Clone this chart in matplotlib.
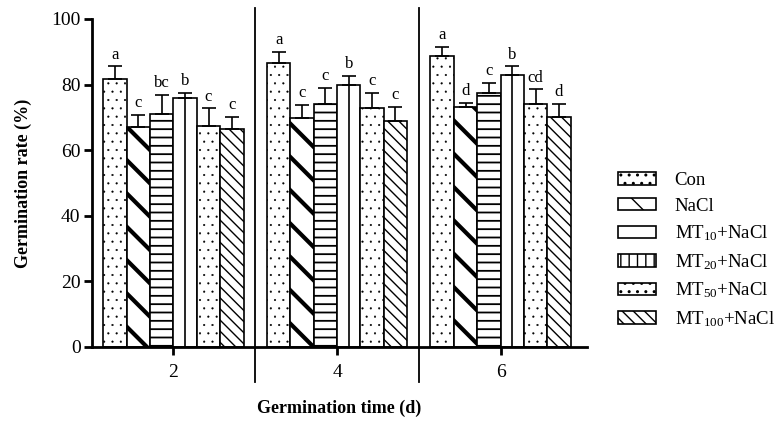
import matplotlib
matplotlib.use("Agg")
import matplotlib.pyplot as plt
import matplotlib.patches as mpatches
import numpy as np

plt.rcParams["font.family"] = ["Liberation Serif", "DejaVu Serif"]
plt.rcParams["mathtext.fontset"] = "custom"
plt.rcParams["mathtext.rm"] = "Liberation Serif"
plt.rcParams["mathtext.it"] = "Liberation Serif:italic"
plt.rcParams["hatch.color"] = "black"

days = ["2", "4", "6"]
treatments = ["Con", "NaCl", "MT$_{10}$+NaCl", "MT$_{20}$+NaCl",
              "MT$_{50}$+NaCl", "MT$_{100}$+NaCl"]

# mean germination rate (%) per treatment, one value per day
con = [81.7, 86.5, 88.8]
nacl = [67.2, 69.9, 73.1]
mt10 = [70.9, 74.0, 77.3]
mt20 = [75.8, 80.0, 82.9]
mt50 = [67.5, 72.7, 74.0]
mt100 = [66.5, 69.0, 70.2]

con_err = [3.8, 3.5, 2.6]
nacl_err = [3.5, 3.9, 1.2]
mt10_err = [5.9, 4.9, 3.1]
mt20_err = [1.7, 2.7, 2.6]
mt50_err = [5.2, 4.8, 4.5]
mt100_err = [3.7, 4.3, 3.9]

con_sig = ["a", "a", "a"]
nacl_sig = ["c", "c", "d"]
mt10_sig = ["bc", "c", "c"]
mt20_sig = ["b", "b", "b"]
mt50_sig = ["c", "c", "cd"]
mt100_sig = ["c", "c", "d"]

means = [con, nacl, mt10, mt20, mt50, mt100]
errs = [con_err, nacl_err, mt10_err, mt20_err, mt50_err, mt100_err]
sigs = [con_sig, nacl_sig, mt10_sig, mt20_sig, mt50_sig, mt100_sig]

# hatch, hatch linewidth
styles = [("..", 0.3), ("\\", 3.0), ("--", 1.3), ("", 1.0), ("..", 0.3), ("\\\\\\", 1.0)]
legend_hatch = ["..", "\\", "-", "||", "..", "\\\\\\"]


def hatch_lw(artist, lw):
    if hasattr(artist, "set_hatch_linewidth"):
        artist.set_hatch_linewidth(lw)


fig = plt.figure(figsize=(7.84, 4.21), dpi=100)
ax = fig.add_axes([0.117, 0.176, 0.632, 0.779])

width = 1 / 7
x = np.arange(len(days))
for i, (vals, err, sig) in enumerate(zip(means, errs, sigs)):
    pos = x + (i - 2.5) * width
    hatch, hlw = styles[i]
    plt.rcParams["hatch.linewidth"] = hlw
    bars = ax.bar(pos, vals, width, color="white", edgecolor="black",
                  linewidth=1.2, hatch=hatch or None, zorder=2)
    for b in bars:
        hatch_lw(b, hlw)
    ax.errorbar(pos, vals, yerr=[[0] * len(vals), err], fmt="none",
                ecolor="black", elinewidth=1.2, capsize=5, capthick=1.2, zorder=3)
    if i == 3:
        ax.vlines(pos, 0, vals, color="black", linewidth=1.2, zorder=3)
    for p, v, e, s in zip(pos, vals, err, sig):
        ax.text(p, v + e + 1.2, s, ha="center", va="bottom", fontsize=12)

plt.rcParams["hatch.linewidth"] = 1.0

for xd in [0.5, 1.5]:
    ax.plot([xd, xd], [-10.7, 103.4], color="black", linewidth=1.3,
            clip_on=False, zorder=4)

ax.set_xlim(-0.5, 2.53)
ax.set_ylim(0, 100)
ax.set_xticks(x)
ax.set_xticklabels(days)
ax.set_yticks(range(0, 101, 20))
ax.tick_params(direction="out", length=6, width=2, labelsize=14)
ax.tick_params(axis="x", pad=6)
ax.tick_params(axis="y", pad=2)
for side in ["top", "right"]:
    ax.spines[side].set_visible(False)
for side in ["left", "bottom"]:
    ax.spines[side].set_linewidth(2)

ax.set_ylabel("Germination rate (%)", fontsize=13, fontweight="bold", labelpad=14)
ax.set_xlabel("Germination time (d)", fontsize=13, fontweight="bold", labelpad=14)

handles = []
for i, lab in enumerate(treatments):
    plt.rcParams["hatch.linewidth"] = styles[i][1]
    h = mpatches.Patch(facecolor="white", edgecolor="black", linewidth=1.2,
                       hatch=legend_hatch[i], label=lab)
    hatch_lw(h, styles[i][1])
    handles.append(h)
plt.rcParams["hatch.linewidth"] = 1.0

fig.legend(handles=handles, loc="center left", bbox_to_anchor=(0.788, 0.405),
           frameon=False, fontsize=13.5, handlelength=2.03, handleheight=0.64,
           labelspacing=0.47, handletextpad=1.0, borderaxespad=0, borderpad=0)

fig.savefig("out.png", dpi=100, facecolor="white")
